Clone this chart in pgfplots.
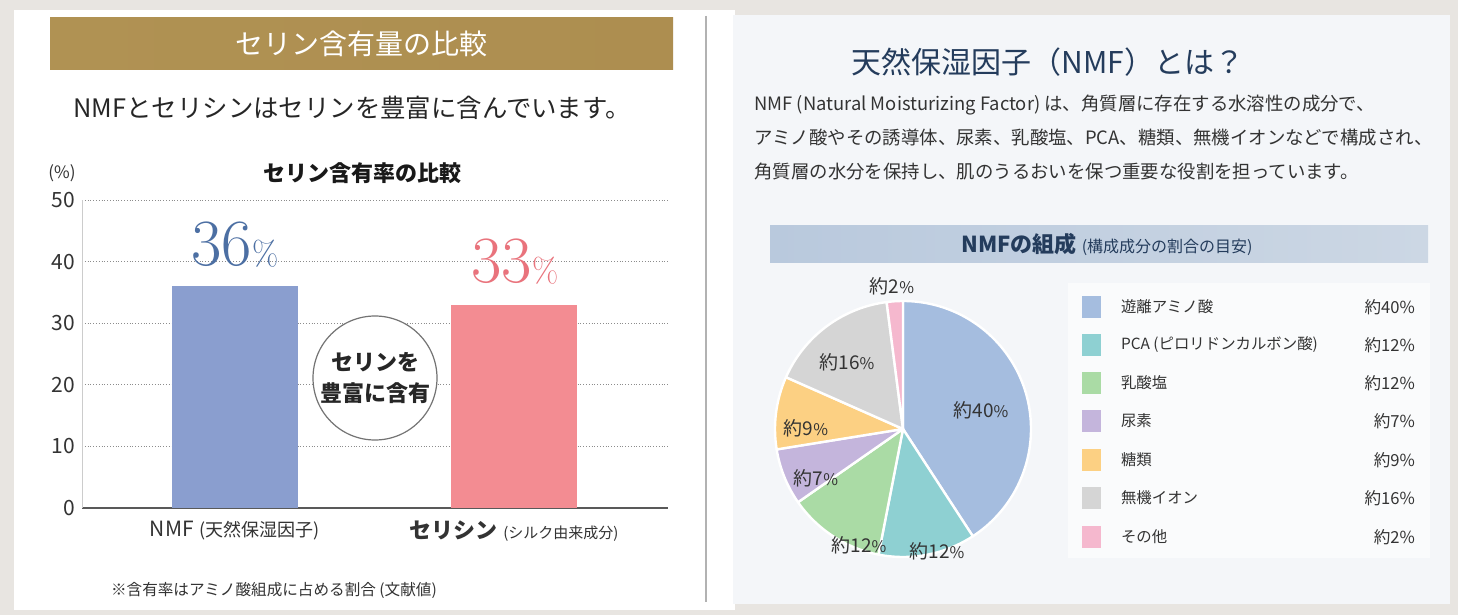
\documentclass[border=0pt]{standalone}
\usepackage{pgfplots}
\pgfplotsset{compat=1.18}
\usepackage{pgfplotstable}
\usepackage{fontspec}
\setmainfont{Noto Sans CJK JP}
\newfontfamily\lm{Latin Modern Roman}
\newcommand\fs[1]{\fontsize{#1pt}{#1pt}\selectfont}
\definecolor{bgc}{HTML}{E8E5E1}
\definecolor{panelbg}{HTML}{F4F6F9}
\definecolor{nmfblue}{HTML}{8A9ECF}
\definecolor{serpink}{HTML}{F38C92}
\definecolor{blue36}{HTML}{4C6FA3}
\definecolor{pink33}{HTML}{E9737C}
\definecolor{gold1}{HTML}{B09253}
\definecolor{gold2}{HTML}{C8AD76}
\definecolor{gold3}{HTML}{AD8E50}
\definecolor{navy}{HTML}{243C5C}
\definecolor{bann1}{HTML}{B9C9DD}
\definecolor{bann2}{HTML}{E9EFF6}
\definecolor{bann3}{HTML}{CCD7E4}
\definecolor{pieblue}{HTML}{A5BDDF}
\definecolor{pieteal}{HTML}{8ED0D2}
\definecolor{piegreen}{HTML}{AADBA5}
\definecolor{piepurple}{HTML}{C4B5DC}
\definecolor{pieyellow}{HTML}{FCD083}
\definecolor{piegray}{HTML}{D5D5D5}
\definecolor{piepink}{HTML}{F5B8CE}
\definecolor{txt}{HTML}{333333}

\pgfplotstableread{
name val col
amino 40 pieblue
pca 12 pieteal
lactate 12 piegreen
urea 7 piepurple
sugar 9 pieyellow
ion 16 piegray
other 2 piepink
}\piedata

\begin{document}
\begin{tikzpicture}
\begin{scope}[x=0.5pt,y=-0.5pt]
\path[use as bounding box] (0,0) rectangle (1458,615);
\fill[bgc] (0,0) rectangle (1458,615);
% ---------- left panel
\fill[white] (14,10) rectangle (735,610);
\draw[black!30, line width=0.6pt] (706,16) -- (706,602);
\shade[left color=gold1, middle color=gold2, right color=gold3] (50,18) rectangle (673,70);
\node[text=white, font=\fs{14}] at (361,44) {セリン含有量の比較};
\node[text=black!85, font=\fs{12.7}] at (352,108) {NMFとセリシンはセリンを豊富に含んでいます。};
\node[text=black!90, font=\bfseries\fs{11}] at (362,173) {セリン含有率の比較};
\node[text=txt, font=\fs{8.5}] at (62,173) {(\%)};
% ---------- right panel background
\fill[panelbg] (733,15) rectangle (1450,604);
\end{scope}

\begin{axis}[
  at={(41pt,-254pt)}, anchor=south west,
  scale only axis, width=293pt, height=154pt,
  xmin=-0.548, xmax=1.552, ymin=0, ymax=50,
  ytick={0,10,20,30,40,50}, xtick={0,1},
  xticklabels={{NMF\hspace{3pt}{\fs{9}(天然保湿因子)}}, {{\bfseries\fs{11}セリシン}\hspace{3pt}{\fs{7.5}(シルク由来成分)}}},
  axis x line*=bottom, axis y line*=left,
  x axis line style={-, draw=black!65, line width=0.8pt},
  y axis line style={-, draw=black!20, line width=0.4pt},
  ymajorgrids, grid style={densely dotted, black!45, line width=0.5pt},
  major tick length=0pt,
  yticklabel style={font=\fs{10.5}, text=txt},
  xticklabel style={font=\fs{10.5}, text=txt, yshift=-3pt},
  ybar, bar width=0.45, bar shift=0pt,
  clip=false,
  /pgf/number format/assume math mode=true,
]
\addplot[fill=nmfblue, draw=none] coordinates {(0,36)};
\addplot[fill=serpink, draw=none] coordinates {(1,33)};
\end{axis}

\begin{axis}[at={(451.5pt,-214.5pt)}, anchor=origin, x=64pt, y=64pt,
  xmin=-1.1, xmax=1.1, ymin=-1.1, ymax=1.1, hide axis, clip=false]
\def\cum{0}
\pgfplotsforeachungrouped \i in {0,...,6}{%
  \pgfplotstablegetelem{\i}{val}\of\piedata\let\pval\pgfplotsretval
  \pgfplotstablegetelem{\i}{col}\of\piedata\let\pcol\pgfplotsretval
  \pgfmathsetmacro\pa{90-\cum/98*360}%
  \pgfmathsetmacro\pb{90-(\cum+\pval)/98*360}%
  \edef\temp{\noexpand\fill[fill=\pcol, draw=white, line width=1.2pt, line join=round] (axis cs:0,0) -- (axis cs:{cos(\pa)},{sin(\pa)}) arc[start angle=\pa, end angle=\pb, radius=64pt] -- cycle;}%
  \temp
  \pgfmathsetmacro\cum{\cum+\pval}%
}
\end{axis}

\begin{scope}[x=0.5pt,y=-0.5pt]
\node[anchor=base, text=blue36, inner sep=0pt] at (235,265) {\lm\fs{33}36{\fs{17}\%}};
\node[anchor=base, text=pink33, inner sep=0pt] at (515,282) {\lm\fs{33}33{\fs{17}\%}};
\draw[black!55, fill=white, line width=0.6pt] (375,378) circle [radius=62];
\node[font=\bfseries\fontsize{11pt}{15.5pt}\selectfont, align=center, text=black!85] at (375,378) {セリンを\\豊富に含有};
\node[anchor=west, text=txt, font=\fs{7.8}] at (104,590) {※含有率はアミノ酸組成に占める割合 (文献値)};

\node[text=navy, font=\fs{15}] at (1048,62) {天然保湿因子（NMF）とは？};
\node[anchor=base west, text=txt, font=\fs{9.2}, inner sep=0pt] at (754,111) {NMF (Natural Moisturizing Factor) は、角質層に存在する水溶性の成分で、};
\node[anchor=base west, text=txt, font=\fs{9.2}, inner sep=0pt] at (754,145) {アミノ酸やその誘導体、尿素、乳酸塩、PCA、糖類、無機イオンなどで構成され、};
\node[anchor=base west, text=txt, font=\fs{9.2}, inner sep=0pt] at (754,178) {角質層の水分を保持し、肌のうるおいを保つ重要な役割を担っています。};
\shade[left color=bann1, middle color=bann2, right color=bann3] (770,226) rectangle (1428,262);
\node[text=navy, font=\fs{11}] at (1107,244) {\textbf{NMFの組成} {\fs{8}(構成成分の割合の目安)}};

\begin{scope}[text=txt, font=\fs{9.5}]
\node at (981,410) {約40{\fs{8}\%}};
\node at (937,551) {約12{\fs{8}\%}};
\node at (859,545) {約12{\fs{8}\%}};
\node at (816,478) {約7{\fs{8}\%}};
\node at (806,428) {約9{\fs{8}\%}};
\node at (847,362) {約16{\fs{8}\%}};
\node at (892,286) {約2{\fs{8}\%}};
\end{scope}

% legend
\fill[white, opacity=0.6] (1068,283) rectangle (1430,558);
\foreach \y/\c/\l/\v in {307/pieblue/遊離アミノ酸/40, 345/pieteal/PCA (ピロリドンカルボン酸)/12, 383/piegreen/乳酸塩/12, 421/piepurple/尿素/7, 460/pieyellow/糖類/9, 498/piegray/無機イオン/16, 537/piepink/その他/2}{
  \fill[\c] (1082,\y-11) rectangle (1101,\y+11);
  \node[anchor=west, text=txt, font=\fs{7.7}] at (1114,\y) {\l};
  \node[anchor=east, text=txt, font=\fs{8.3}] at (1422,\y) {約\v\%};
}
\end{scope}
\end{tikzpicture}
\end{document}
